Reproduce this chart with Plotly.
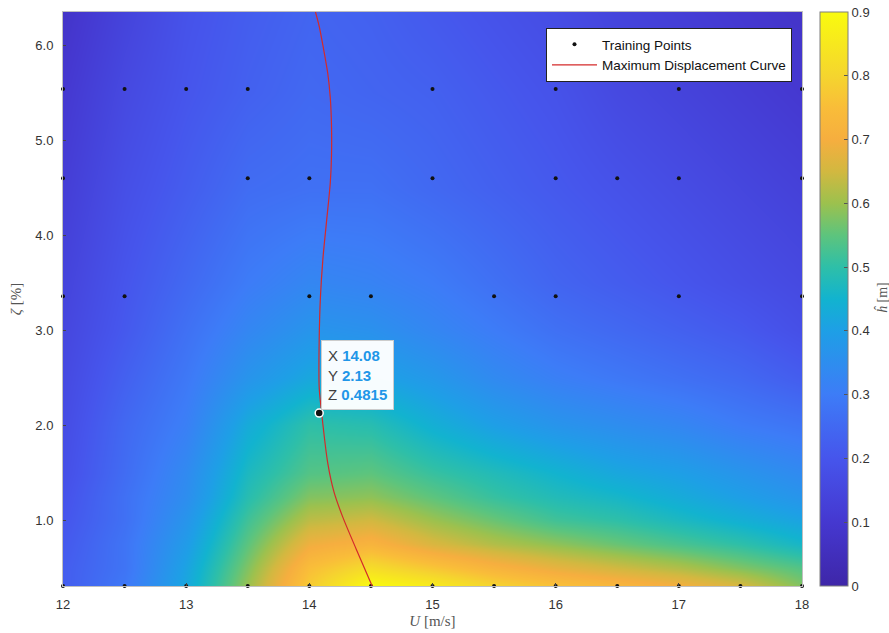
import plotly.graph_objects as go

# ---------------- data ----------------
U_grid = [12.0, 12.5, 13.0, 13.5, 14.0, 14.5, 15.0, 15.5, 16.0, 16.5, 17.0, 17.5, 18.0]
zeta_grid = [0.31, 0.5, 0.75, 1.0, 1.25, 1.5, 2.0, 2.5, 3.0, 3.5, 4.5, 5.5, 6.35]
h_hat = [
    [0.22, 0.29, 0.42, 0.60, 0.78, 0.90, 0.86, 0.80, 0.76, 0.73, 0.70, 0.66, 0.58],
    [0.22, 0.28, 0.41, 0.58, 0.75, 0.82, 0.77, 0.72, 0.68, 0.65, 0.62, 0.58, 0.54],
    [0.21, 0.28, 0.39, 0.55, 0.69, 0.72, 0.66, 0.62, 0.59, 0.56, 0.53, 0.50, 0.46],
    [0.20, 0.27, 0.37, 0.52, 0.63, 0.65, 0.60, 0.56, 0.52, 0.50, 0.47, 0.44, 0.41],
    [0.19, 0.27, 0.35, 0.49, 0.58, 0.59, 0.55, 0.51, 0.48, 0.46, 0.43, 0.40, 0.37],
    [0.18, 0.26, 0.34, 0.47, 0.54, 0.55, 0.51, 0.48, 0.45, 0.42, 0.40, 0.37, 0.34],
    [0.17, 0.25, 0.31, 0.43, 0.50, 0.49, 0.44, 0.40, 0.37, 0.35, 0.33, 0.30, 0.28],
    [0.16, 0.23, 0.29, 0.37, 0.42, 0.41, 0.38, 0.34, 0.31, 0.29, 0.27, 0.25, 0.22],
    [0.15, 0.21, 0.27, 0.33, 0.37, 0.36, 0.33, 0.30, 0.27, 0.25, 0.23, 0.21, 0.18],
    [0.14, 0.20, 0.25, 0.30, 0.33, 0.32, 0.30, 0.27, 0.24, 0.22, 0.20, 0.18, 0.16],
    [0.12, 0.18, 0.22, 0.26, 0.27, 0.27, 0.25, 0.23, 0.21, 0.19, 0.17, 0.15, 0.13],
    [0.10, 0.16, 0.20, 0.23, 0.25, 0.24, 0.23, 0.21, 0.19, 0.16, 0.14, 0.12, 0.10],
    [0.08, 0.14, 0.19, 0.22, 0.24, 0.23, 0.21, 0.19, 0.17, 0.14, 0.12, 0.10, 0.08],
]

# training points
train_U = (
    [12, 12.5, 13, 13.5, 15, 16, 17, 18]
    + [12, 13.5, 14, 15, 16, 16.5, 17, 18]
    + [12, 12.5, 14, 14.5, 15.5, 16, 17, 18]
    + [12, 12.5, 13, 13.5, 14, 14.5, 15, 15.5, 16, 16.5, 17, 17.5, 18]
)
train_zeta = [5.54] * 8 + [4.60] * 8 + [3.36] * 8 + [0.31] * 13

# maximum displacement curve
curve_U = [14.05, 14.08, 14.11, 14.15, 14.17, 14.18, 14.18, 14.17, 14.14, 14.11, 14.09, 14.08, 14.08, 14.10, 14.15, 14.20, 14.27, 14.38, 14.51]
curve_zeta = [6.35, 6.20, 6.00, 5.70, 5.45, 5.15, 4.84, 4.55, 4.15, 3.75, 3.35, 2.90, 2.40, 2.13, 1.60, 1.30, 1.04, 0.70, 0.31]

tip_U, tip_zeta, tip_h = 14.08, 2.13, 0.4815

cbar_ticks = [0, 0.1, 0.2, 0.3, 0.4, 0.5, 0.6, 0.7, 0.8, 0.9]
cbar_ticktext = ["0", "0.1", "0.2", "0.3", "0.4", "0.5", "0.6", "0.7", "0.8", "0.9"]
x_ticks = [12, 13, 14, 15, 16, 17, 18]
y_ticks = [1.0, 2.0, 3.0, 4.0, 5.0, 6.0]

# parula-like colour scale (stops in data units, 0..0.9)
cmax = 0.9
parula_stops = [
    (0.00, "#3e26a8"), (0.10, "#4538d0"), (0.20, "#4655ec"), (0.30, "#3d7cf7"),
    (0.40, "#1e9fe6"), (0.45, "#12b3cf"), (0.50, "#2ebfa8"), (0.55, "#5dc47d"),
    (0.60, "#9cc14e"), (0.65, "#d2b840"), (0.70, "#f6ae3f"), (0.75, "#f9bd39"),
    (0.80, "#f5d52e"), (0.90, "#f9fb0e"),
]
colorscale = [[v / cmax, c] for v, c in parula_stops]

# ---------------- figure ----------------
W, H = 889, 633
L, R, T, B = 63, 87, 12, 47
PW, PH = W - L - R, H - T - B

fig = go.Figure()

fig.add_trace(go.Heatmap(
    x=U_grid, y=zeta_grid, z=h_hat, zsmooth="best",
    colorscale=colorscale, zmin=0, zmax=cmax, showscale=True, showlegend=False,
    hoverinfo="skip",
    colorbar=dict(
        x=(820 - L) / PW, xanchor="left", xref="paper", y=0.5, yanchor="middle",
        len=1.0, lenmode="fraction", thickness=28, ypad=0, xpad=0,
        outlinecolor="#7f7f7f", outlinewidth=1,
        tickvals=cbar_ticks, ticktext=cbar_ticktext,
        ticks="inside", ticklen=4, tickcolor="#555555",
        tickfont=dict(family="Liberation Sans, Arial, sans-serif", size=13, color="#333333"),
    ),
))

fig.add_trace(go.Scatter(
    x=train_U, y=train_zeta, mode="markers", name="Training Points",
    marker=dict(color="#111111", size=4), cliponaxis=False,
))

fig.add_trace(go.Scatter(
    x=curve_U, y=curve_zeta, mode="lines", name="Maximum Displacement Curve",
    line=dict(color="#d42a2a", width=1.2, shape="spline", smoothing=0.8),
))

fig.add_trace(go.Scatter(
    x=[tip_U], y=[tip_zeta], mode="markers", showlegend=False,
    marker=dict(color="#111111", size=8, line=dict(color="white", width=1.5)),
))

blue = "#2196e8"
tip_text = (
    f"X <b><span style='color:{blue}'>{tip_U:.2f}</span></b><br>"
    f"Y <b><span style='color:{blue}'>{tip_zeta:.2f}</span></b><br>"
    f"Z <b><span style='color:{blue}'>{tip_h:.4f}</span></b>"
)
fig.add_annotation(
    x=tip_U, y=tip_zeta, xref="x", yref="y", text=tip_text, showarrow=False,
    xanchor="left", yanchor="bottom", xshift=2, yshift=3, align="left",
    bgcolor="rgba(255,255,255,0.97)", bordercolor="#cccccc", borderwidth=1, borderpad=6,
    font=dict(family="Liberation Sans, Arial, sans-serif", size=15, color="#404040"),
)

# colorbar label
fig.add_annotation(
    x=(882 - L) / PW, y=(H - B - 298) / PH, xref="paper", yref="paper",
    xanchor="center", yanchor="middle",
    text="<i>ĥ</i> [m]", showarrow=False, textangle=-90,
    font=dict(family="Liberation Serif, DejaVu Serif, serif", size=14, color="#555555"),
)

fig.update_layout(
    width=W, height=H,
    margin=dict(l=L, r=R, t=T, b=B, autoexpand=False),
    paper_bgcolor="white", plot_bgcolor="white",
    font=dict(family="Liberation Sans, Arial, sans-serif", size=13, color="#333333"),
    legend=dict(
        x=(792 - L) / PW, y=(H - B - 28) / PH, xanchor="right", yanchor="top",
        bgcolor="white", bordercolor="#222222", borderwidth=1,
        font=dict(family="Liberation Sans, Arial, sans-serif", size=13.5, color="#111111"),
        itemwidth=45, tracegroupgap=0,
    ),
    xaxis=dict(
        range=[12, 18], tickvals=x_ticks, ticks="inside", ticklen=3, automargin=False,
        showgrid=False, zeroline=False, showline=True, linecolor="#bfbfbf", mirror=True,
        tickfont=dict(size=13, color="#333333"), ticklabelstandoff=6,
        title=dict(text="<i>U</i> [m/s]", standoff=4,
                   font=dict(family="Liberation Serif, DejaVu Serif, serif", size=15, color="#555555")),
    ),
    yaxis=dict(
        range=[0.31, 6.35], tickvals=y_ticks, tickformat=".1f", ticks="inside", ticklen=3,
        automargin=False,
        showgrid=False, zeroline=False, showline=True, linecolor="#bfbfbf", mirror=True,
        tickfont=dict(size=13, color="#333333"), ticklabelstandoff=6,
        title=dict(text="<i>ζ</i> [%]", standoff=10,
                   font=dict(family="Liberation Serif, DejaVu Serif, serif", size=15, color="#555555")),
    ),
)

fig.write_html("out.html", config={"displayModeBar": False},
               post_script="document.body.style.margin='0';")
